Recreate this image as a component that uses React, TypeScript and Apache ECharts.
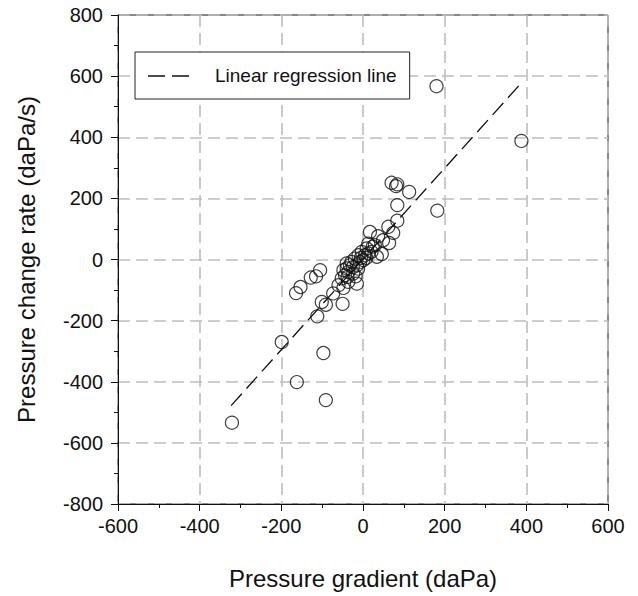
import React, { useEffect, useRef } from "react";
import * as echarts from "echarts";

const gradient = [
  -321, -199, -162, -97, -91, 180, 388, 182, 70, 81, 84, 113, 84, 84, 62, 74, 64, 49, 46, 17, 37,
  -112, -101, -91, -73, -50, -48, -164, -153, -128, -115, -105, -40, -48, -38,
  13, 29, -3, 5, 13, -11, -20, -28, -7, 1, -15, -32, -40, -36, -24, -44, -52, -36, -15, -60, 21, 34, 9,
  24, -5, -12, -25, 8, -18,
];
const changeRate = [
  -534, -270, -401, -306, -460, 567, 388, 160, 251, 240, 246, 221, 178, 127, 107, 87, 54, 63, 18, 90, 76,
  -186, -139, -148, -111, -145, -93, -110, -90, -59, -55, -35, -13, -35, -57,
  52, 47, 25, 14, 20, 14, 3, -8, -8, -2, -19, -19, -29, -41, -46, -51, -62, -73, -79, -84, 25, 9, 36,
  42, 5, -30, -25, 5, -55,
];
const lineX = [-323, 388];
const lineY = [-478, 578];
const xTicks = [-600, 600, 200];
const yTicks = [-800, 800, 200];

const FONT = "Liberation Sans, Arial, sans-serif";

export default function App() {
  const ref = useRef<HTMLDivElement>(null);
  useEffect(() => {
    if (!ref.current) return;
    const chart = echarts.init(ref.current, undefined, { renderer: "svg" });
    const gridLine = { show: true, lineStyle: { color: "#bdbdbd", width: 1.6, type: [12, 6] as any } };
    const axisCommon = {
      type: "value" as const,
      axisLine: { show: true, onZero: false, lineStyle: { color: "#111", width: 1 } },
      axisTick: { show: true, inside: false, length: 7, lineStyle: { color: "#111", width: 1 } },
      minorTick: { show: true, splitNumber: 2, length: 4, lineStyle: { color: "#111", width: 1 } },
      splitLine: gridLine,
      nameLocation: "middle" as const,
      nameTextStyle: { fontFamily: FONT, fontSize: 24, color: "#111" },
    };
    chart.setOption({
      animation: false,
      backgroundColor: "#fff",
      grid: {
        left: 118,
        right: 30,
        top: 15,
        bottom: 92,
        show: true,
        borderColor: "#111",
        borderWidth: 1,
        backgroundColor: "transparent",
      },
      legend: {
        show: true,
        data: [{ name: "Linear regression line", icon: "none" }],
        left: 135,
        top: 52,
        width: 273,
        orient: "horizontal",
        borderColor: "#222",
        borderWidth: 1,
        padding: [14, 13, 14, 13],
        itemWidth: 44,
        itemHeight: 14,
        backgroundColor: "#fff",
        textStyle: { fontFamily: FONT, fontSize: 19, color: "#111", padding: [0, 0, 0, 18] },
      },
      graphic: [
        {
          type: "line",
          z: 100,
          shape: { x1: 148, y1: 76, x2: 192, y2: 76 },
          style: { stroke: "#111", lineWidth: 1.3, lineDash: [17, 7] },
        },
      ],
      xAxis: {
        ...axisCommon,
        min: xTicks[0],
        max: xTicks[1],
        interval: xTicks[2],
        name: "Pressure gradient (daPa)",
        nameGap: 62,
        axisLabel: { fontFamily: FONT, fontSize: 20, color: "#111", margin: 12 },
      },
      yAxis: {
        ...axisCommon,
        min: yTicks[0],
        max: yTicks[1],
        interval: yTicks[2],
        name: "Pressure change rate (daPa/s)",
        nameGap: 80,
        axisLabel: { fontFamily: FONT, fontSize: 20, color: "#111", margin: 15 },
      },
      series: [
        {
          name: "Linear regression line",
          type: "line",
          data: lineX.map((x, i) => [x, lineY[i]]),
          symbol: "none",
          lineStyle: { color: "#111", width: 1.3, type: [16, 7] },
          itemStyle: { color: "#111" },
          z: 3,
        },
        {
          name: "Data",
          type: "scatter",
          data: gradient.map((x, i) => [x, changeRate[i]]),
          symbol: "circle",
          symbolSize: 13,
          itemStyle: { color: "rgba(0,0,0,0)", borderColor: "#111", borderWidth: 1.2 },
          z: 2,
        },
      ],
    });
    return () => chart.dispose();
  }, []);
  return (
    <div
      ref={ref}
      style={{ position: "fixed", left: 0, top: 0, width: 638, height: 596 }}
    />
  );
}
